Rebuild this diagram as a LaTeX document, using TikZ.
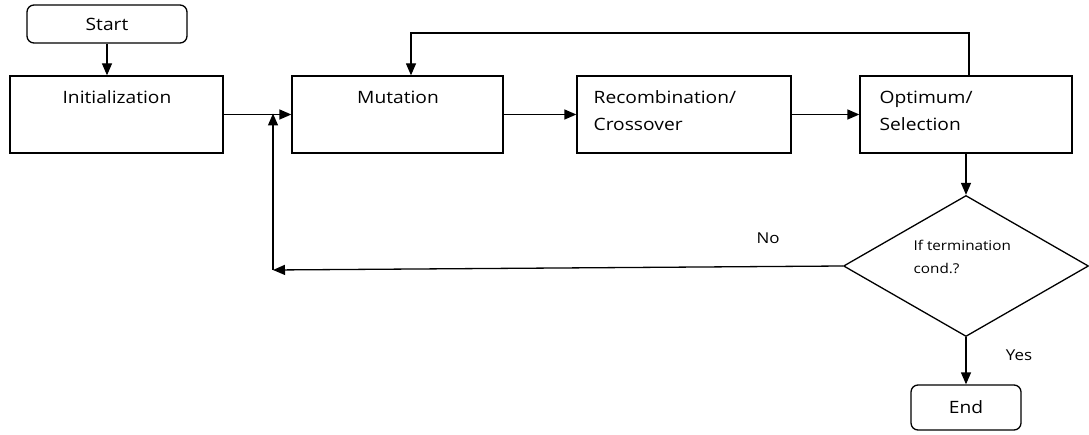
\documentclass[tikz,border=0pt]{standalone}
\usepackage{fontspec}
\setmainfont{Open Sans}[FakeStretch=1.13]
\usetikzlibrary{arrows.meta,shapes.geometric}
\begin{document}
\begin{tikzpicture}[x=1pt,y=-1pt,
  line width=1.3pt,
  box/.style={draw, rectangle, minimum height=77pt, inner sep=0pt},
  term/.style={draw, rectangle, rounded corners=7pt, inner sep=0pt,
    font=\fontsize{17}{20}\selectfont},
  lbl/.style={inner sep=0pt, font=\fontsize{17}{27}\selectfont},
  small/.style={inner sep=0pt, font=\fontsize{13.5}{23}\selectfont},
  arr/.style={-{Triangle[length=12pt,width=10pt]}}]
\useasboundingbox (0,0) rectangle (1089,435);

% terminals
\node[term, minimum width=160pt, minimum height=38pt] (start) at (107,24) {Start};
\node[term, minimum width=110pt, minimum height=45pt] (end) at (966,407.5) {End};

% process boxes
\node[box, minimum width=213pt] (init) at (116.5,114.5) {};
\node[lbl] (initT) at (117,97) {Initialization};
\node[box, minimum width=211pt] (mut) at (397.5,114.5) {};
\node[lbl] (mutT) at (398,97) {Mutation};
\node[box, minimum width=214pt] (rec) at (684,114.5) {};
\node[lbl, anchor=west, align=left] (recT) at (593,110.5) {Recombination/\\Crossover};
\node[box, minimum width=212pt] (opt) at (966,114.5) {};
\node[lbl, anchor=west, align=left] (optT) at (879,110.5) {Optimum/\\Selection};

% decision
\node[draw, diamond, minimum width=245pt, minimum height=141pt, inner sep=0pt] (dec) at (966,266) {};
\node[small, anchor=west, align=left] (decT) at (913,256.5) {If termination\\cond.?};

% branch labels
\node[lbl, font=\fontsize{15}{18}\selectfont] (no) at (768,238) {No};
\node[lbl, font=\fontsize{15}{18}\selectfont] (yes) at (1019,355) {Yes};

% junction points of the loops
\coordinate (j) at (273,114.5);
\coordinate (nocorner) at (273,270);
\coordinate (fbR) at (969,33);
\coordinate (fbL) at (411,33);

% main flow
\draw[arr] (start.south) -- (start.south |- init.north);
\draw[arr] (init.east) -- (mut.west);
\draw[arr] (mut.east) -- (rec.west);
\draw[arr] (rec.east) -- (opt.west);
\draw[arr] (opt.south) -- (dec.north);
\draw[arr] (dec.south) -- (end.north);

% "No" loop back into the mutation step
\draw[arr] (dec.west) -- (nocorner);
\draw[arr] (nocorner) -- ([yshift=1pt]j);

% feedback from selection to mutation
\draw[arr] (opt.north -| fbR) -- (fbR) -- (fbL) -- (mut.north -| fbL);
\end{tikzpicture}
\end{document}
